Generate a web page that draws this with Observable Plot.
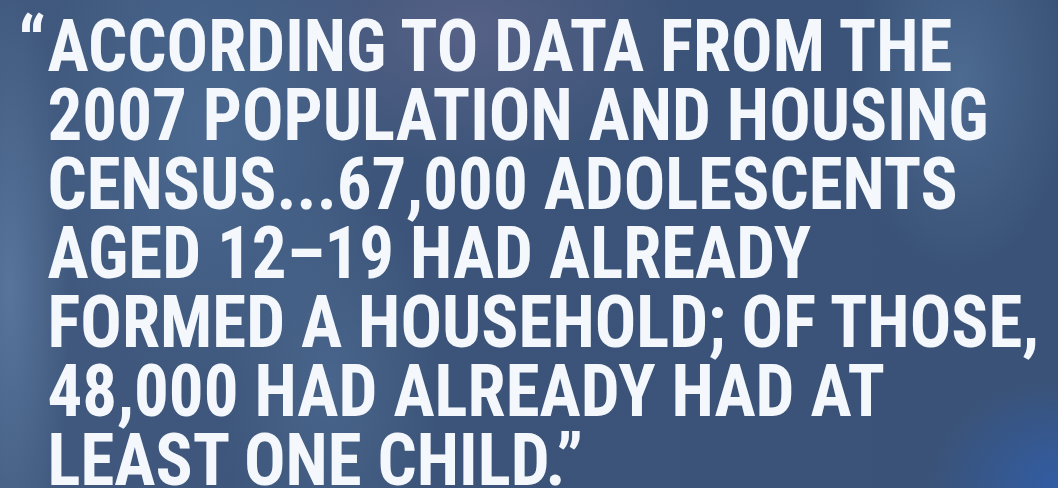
<!DOCTYPE html>
<html>
<head>
<meta charset="utf-8">
<script src="https://cdn.jsdelivr.net/npm/d3@7"></script>
<script src="https://cdn.jsdelivr.net/npm/@observablehq/plot@0.6"></script>
<style>
  html, body { margin: 0; padding: 0; width: 1058px; height: 488px; overflow: hidden; background: #3b5478; }
  #chart svg {
    display: block;
    background:
      radial-gradient(ellipse 60px 300px at 10px 290px, rgba(115,150,190,0.45), rgba(115,150,190,0) 100%),
      radial-gradient(ellipse 170px 260px at 210px 130px, rgba(90,128,170,0.45), rgba(90,128,170,0) 100%),
      radial-gradient(ellipse 110px 200px at 330px 380px, rgba(95,130,170,0.35), rgba(95,130,170,0) 100%),
      radial-gradient(ellipse 220px 140px at 470px 30px, rgba(118,112,150,0.45), rgba(118,112,150,0) 100%),
      radial-gradient(ellipse 110px 190px at 960px 80px, rgba(95,130,170,0.5), rgba(95,130,170,0) 100%),
      radial-gradient(ellipse 130px 110px at 1058px 488px, rgba(48,95,172,0.85), rgba(48,95,172,0) 100%),
      linear-gradient(90deg, #41597e 0%, #3c5479 40%, #3a5277 100%);
  }
  #chart svg g.quote text { font-family: "Roboto Condensed", Roboto, sans-serif !important; font-stretch: condensed !important; font-weight: 700 !important; }
</style>
</head>
<body>
<div id="chart"></div>
<script>
const openQuote = "\u201C";
const lines = [
  "ACCORDING TO DATA FROM THE",
  "2007 POPULATION AND HOUSING",
  "CENSUS...67,000 ADOLESCENTS",
  "AGED 12\u201319 HAD ALREADY",
  "FORMED A HOUSEHOLD; OF THOSE,",
  "48,000 HAD ALREADY HAD AT",
  "LEAST ONE CHILD.\u201D"
];
const rows = lines.map((text, i) => ({text, row: i}));

const left = 47;
const chart = Plot.plot({
  width: 1058,
  height: 488,
  marginTop: 70,
  marginBottom: 4,
  marginLeft: left,
  marginRight: 11,
  x: {domain: [0, 1], axis: null},
  y: {domain: [0, lines.length - 1], reverse: true, axis: null},
  marks: [
    Plot.text(rows, {
      x: 0, y: "row", text: "text",
      textAnchor: "start", lineAnchor: "bottom",
      fontSize: 73, fontWeight: 700,
      fill: "#f4f8fc", className: "quote"
    }),
    Plot.text([{text: openQuote, row: 0}], {
      x: 0, y: "row", text: "text",
      textAnchor: "end", lineAnchor: "bottom", dx: -2,
      fontSize: 76, fontWeight: 700,
      fill: "#f4f8fc", className: "quote"
    })
  ]
});
document.getElementById("chart").appendChild(chart);

const svg = d3.select(chart);
svg.selectAll("g.quote text").attr("font-stretch", "condensed").attr("font-family", null);
// fine-tune the horizontal proportions to the display type
const firstLine = svg.select("g.quote text").node();
const targetWidth = 905;
const k = firstLine ? targetWidth / firstLine.getComputedTextLength() : 0.95;
svg.selectAll("g.quote").each(function () {
  const wrap = document.createElementNS("http://www.w3.org/2000/svg", "g");
  wrap.setAttribute("transform", `translate(${left},0) scale(${k},1) translate(${-left},0)`);
  this.parentNode.insertBefore(wrap, this);
  wrap.appendChild(this);
});
</script>
</body>
</html>
